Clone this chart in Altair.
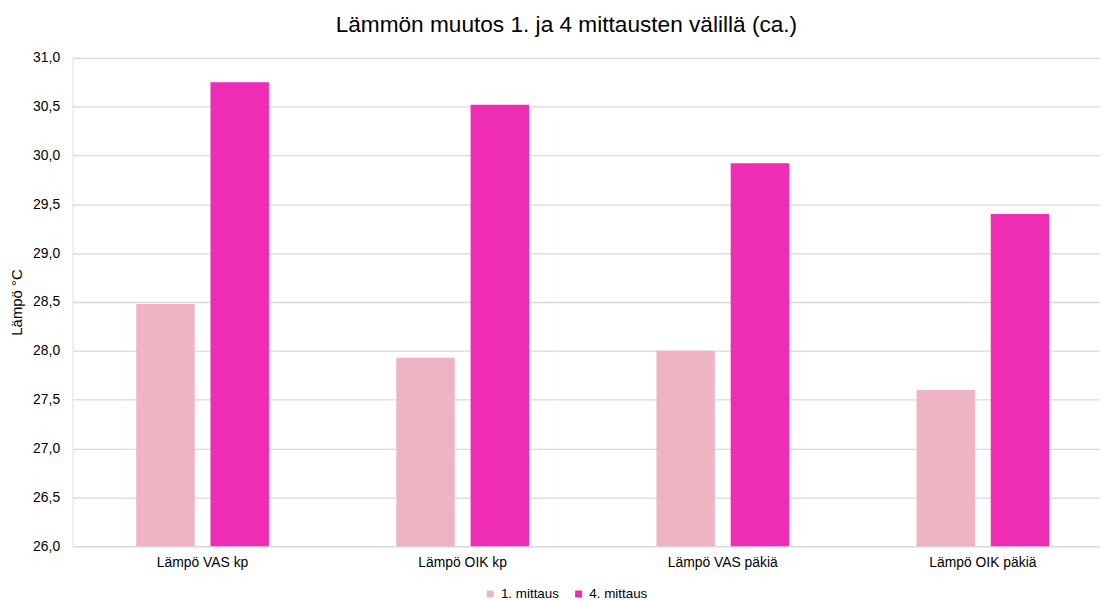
import altair as alt
import pandas as pd

categories = ["Lämpö VAS kp", "Lämpö OIK kp", "Lämpö VAS päkiä", "Lämpö OIK päkiä"]
series = ["1. mittaus", "4. mittaus"]
mittaus_1 = [28.48, 27.93, 28.00, 27.60]
mittaus_4 = [30.75, 30.52, 29.92, 29.40]
y_ticks = [26.0, 26.5, 27.0, 27.5, 28.0, 28.5, 29.0, 29.5, 30.0, 30.5, 31.0]
y_min = 26
y_max = 31
colors = ["#EFB4C3", "#EE2CB4"]

rows = []
for c, a, b in zip(categories, mittaus_1, mittaus_4):
    rows.append({"kohta": c, "sarja": series[0], "arvo": a})
    rows.append({"kohta": c, "sarja": series[1], "arvo": b})
df = pd.DataFrame(rows)

font = "Liberation Sans"

chart = alt.Chart(df).mark_bar().encode(
    x=alt.X("kohta:N", sort=categories,
            scale=alt.Scale(range=[0, 1048], paddingInner=0.49, paddingOuter=0.245),
            axis=alt.Axis(title=None, labelAngle=0, labelFontSize=14, labelFont=font,
                          labelColor="#000000", labelPadding=9, ticks=False,
                          domainColor="#d9d9d9", domainWidth=1.3, grid=False)),
    xOffset=alt.XOffset("sarja:N", sort=series,
                        scale=alt.Scale(paddingInner=0.213, paddingOuter=0)),
    y=alt.Y("arvo:Q",
            scale=alt.Scale(domain=[y_min, y_max], zero=False, nice=False),
            axis=alt.Axis(title="Lämpö °C", values=y_ticks,
                          labelExpr="replace(format(datum.value, '.1f'), '.', ',')",
                          labelFontSize=14, labelFont=font, labelColor="#000000",
                          labelPadding=13, ticks=False, domain=False,
                          gridColor="#d9d9d9", gridWidth=1.3,
                          titleFont=font, titleFontSize=15, titleFontWeight="normal",
                          titleColor="#000000", titleX=-51, titleY=246,
                          titleBaseline="alphabetic", titleAngle=270)),
    y2=alt.datum(y_min),
    color=alt.Color("sarja:N", sort=series,
                    scale=alt.Scale(domain=series, range=colors),
                    legend=alt.Legend(title=None, orient="none", legendX=414, legendY=533,
                                      direction="horizontal", symbolType="square",
                                      symbolSize=49, symbolStrokeWidth=0,
                                      labelFontSize=13.5, labelFont=font,
                                      labelColor="#000000", labelOffset=4,
                                      columnPadding=12)),
).properties(
    width=1035,
    height=492,
    title=alt.TitleParams("Lämmön muutos 1. ja 4 mittausten välillä (ca.)",
                          font=font, fontSize=22.8, fontWeight="normal",
                          color="#000000", anchor="middle", frame="group",
                          dx=-20, dy=26, offset=22, baseline="alphabetic"),
    autosize=alt.AutoSizeParams(type="none"),
    padding={"left": 65, "top": 48, "right": 0, "bottom": 52},
).configure_view(stroke=None).configure(background="#ffffff")

chart.save("out.html", embed_options={"renderer": "svg", "actions": False})
